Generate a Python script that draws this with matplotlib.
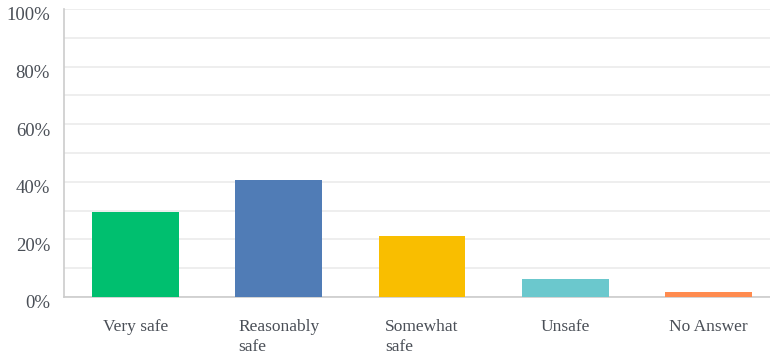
import matplotlib.pyplot as plt
import matplotlib.transforms as mtransforms
from matplotlib.ticker import MultipleLocator, FuncFormatter

# Survey answers (percent of respondents)
categories = ['Very safe', 'Reasonably\nsafe', 'Somewhat\nsafe', 'Unsafe', 'No Answer']
values = [29.4, 40.5, 21.3, 6.3, 1.9]
colors = ['#00bf6f', '#507cb6', '#f9be00', '#6bc8cd', '#ff8b4f']

plt.rcParams['font.family'] = ['Liberation Serif', 'DejaVu Serif']

fig = plt.figure(figsize=(7.7, 3.58), dpi=100)
ax = fig.add_axes([64 / 770, 1 - 297 / 358, 1 - 64 / 770, 288 / 358])

x = range(len(categories))
ax.bar(x, values, width=0.607, color=colors, zorder=3)

ax.set_ylim(0, 100)
ax.set_xlim(-0.5, 4.43)
ax.yaxis.set_major_locator(MultipleLocator(20))
ax.yaxis.set_minor_locator(MultipleLocator(10))
ax.yaxis.set_major_formatter(FuncFormatter(lambda v, p: f'{v:.0f}%'))
ax.grid(axis='y', which='both', color='#ebebeb', linewidth=1.2, zorder=0)

ax.set_xticks(list(x))
ax.set_xticklabels(categories, multialignment='left', linespacing=1.35)
ax.tick_params(axis='x', length=0, pad=16, labelsize=12.5, labelcolor='#4a4f57')
ax.tick_params(axis='y', which='both', length=0, pad=10, labelsize=13.5, labelcolor='#4a4f57')

# y labels sit a little below their gridlines in the original
shift = mtransforms.ScaledTranslation(0, -5 / 100, fig.dpi_scale_trans)
for lbl in ax.get_yticklabels():
    lbl.set_transform(lbl.get_transform() + shift)

for s in ['top', 'right']:
    ax.spines[s].set_visible(False)
ax.spines['left'].set_color('#cccccc')
ax.spines['bottom'].set_color('#cccccc')
ax.spines['left'].set_linewidth(1.2)
ax.spines['bottom'].set_linewidth(1.2)

fig.savefig('out.png', dpi=100)
